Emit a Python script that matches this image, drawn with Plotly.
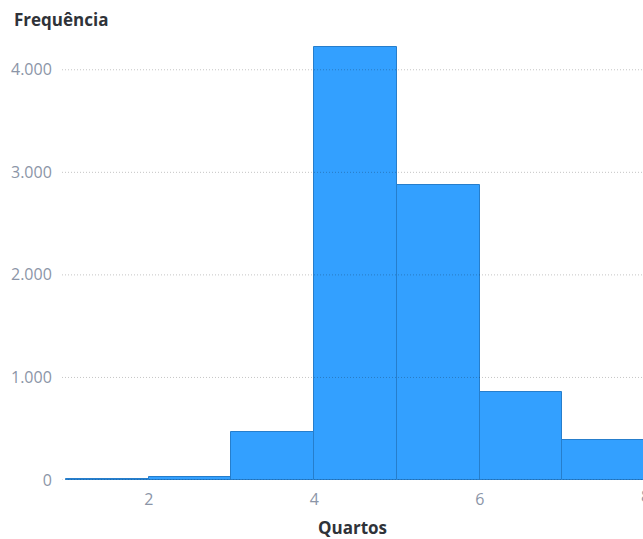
import plotly.graph_objects as go

# Histogram bins (number of rooms) and their counts
bin_starts = [1, 2, 3, 4, 5, 6, 7]
bin_width = 1
counts = [10, 30, 468, 4224, 2872, 859, 390]

y_ticks = [0, 1000, 2000, 3000, 4000]
x_ticks = [2, 4, 6, 8]

bar_fill = "rgb(51,160,255)"
bar_edge = "rgb(38,126,204)"
tick_color = "#8b95a7"
title_color = "#2f3339"
font_family = "'Open Sans', Lato, sans-serif"

x_range = [0.952, 7.973]

fig = go.Figure(
    go.Bar(
        x=bin_starts,
        y=counts,
        width=[bin_width] * len(bin_starts),
        offset=0,
        marker=dict(color=bar_fill, line=dict(color=bar_edge, width=1)),
        hovertemplate="%{x}: %{y}<extra></extra>",
    )
)

# Dotted reference lines drawn on top of the bars
for v in y_ticks:
    fig.add_shape(
        type="line", xref="paper", yref="y",
        x0=0, x1=1, y0=v, y1=v,
        line=dict(color="rgba(0,0,0,0.23)", width=1, dash="1px,2px"),
        layer="above",
    )

# Tick labels that fall just past the right edge of the plot area are
# placed as paper annotations so they get clipped by the page edge.
span = x_range[1] - x_range[0]
edge_labels = [
    dict(
        text=str(t),
        xref="paper", yref="paper",
        x=(t - x_range[0]) / span, y=0,
        xanchor="center", yanchor="middle",
        yshift=-16,
        showarrow=False,
        font=dict(family=font_family, size=16, color=tick_color),
    )
    for t in x_ticks if t > x_range[1]
]

fig.update_layout(
    width=643,
    height=539,
    margin=dict(l=62, r=0, t=39, b=59),
    paper_bgcolor="white",
    plot_bgcolor="white",
    bargap=0,
    separators=",.",
    showlegend=False,
    font=dict(family=font_family, size=16, color=tick_color),
    xaxis=dict(
        range=x_range,
        tickvals=x_ticks,
        showgrid=False,
        zeroline=False,
        showline=False,
        ticks="outside",
        ticklen=5,
        tickcolor="rgba(0,0,0,0)",
        tickfont=dict(size=16, color=tick_color),
        title=dict(
            text="<b>Quartos</b>",
            font=dict(size=17, color=title_color),
            standoff=17,
        ),
    ),
    yaxis=dict(
        range=[0, 4300],
        tickvals=y_ticks,
        tickformat=",d",
        showgrid=False,
        zeroline=False,
        showline=False,
        ticks="outside",
        ticklen=6,
        tickcolor="rgba(0,0,0,0)",
        tickfont=dict(size=16, color=tick_color),
    ),
    annotations=[
        dict(
            text="<b>Frequência</b>",
            xref="paper", yref="paper",
            x=0, y=1,
            xshift=-50, yshift=20,
            xanchor="left", yanchor="middle",
            showarrow=False,
            font=dict(family=font_family, size=17, color=title_color),
        )
    ] + edge_labels,
)

fig.write_html("out.html")
